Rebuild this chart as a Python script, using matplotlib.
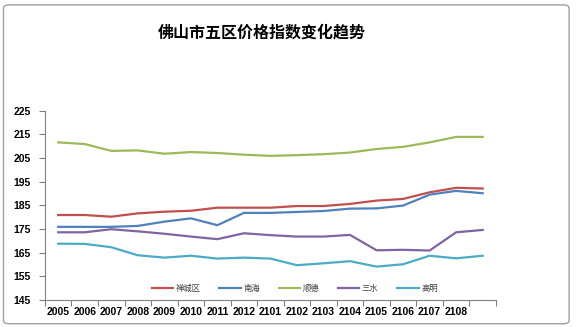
import numpy as np
import matplotlib.pyplot as plt
import matplotlib.patches as mpatches

plt.rcParams['font.family'] = ['Noto Sans CJK SC', 'DejaVu Sans']

# categories (last category has no label)
periods = ['2005', '2006', '2007', '2008', '2009', '2010', '2011', '2012',
           '2101', '2102', '2103', '2104', '2105', '2106', '2107', '2108', '']

chancheng = [180.9, 180.9, 180.2, 181.6, 182.3, 182.7, 184.0, 184.0, 184.0,
             184.7, 184.7, 185.6, 187.0, 187.7, 190.5, 192.4, 192.1]
nanhai = [175.9, 175.9, 175.9, 176.3, 178.1, 179.5, 176.6, 181.8, 181.8,
          182.2, 182.6, 183.6, 183.7, 184.9, 189.5, 191.1, 190.1]
shunde = [211.6, 210.9, 208.0, 208.2, 206.8, 207.5, 207.1, 206.4, 205.9,
          206.2, 206.6, 207.3, 208.8, 209.7, 211.6, 213.9, 213.9]
sanshui = [173.6, 173.6, 174.9, 174.0, 173.0, 171.8, 170.7, 173.2, 172.4,
           171.8, 171.8, 172.5, 166.0, 166.2, 165.9, 173.6, 174.6]
gaoming = [168.8, 168.7, 167.3, 163.9, 162.9, 163.7, 162.5, 162.9, 162.5,
           159.7, 160.5, 161.4, 159.1, 160.1, 163.7, 162.6, 163.7]

series = [('禅城区', chancheng, '#C0504D'),
          ('南海', nanhai, '#4F81BD'),
          ('顺德', shunde, '#9BBB59'),
          ('三水', sanshui, '#8064A2'),
          ('高明', gaoming, '#4BACC6')]

fig = plt.figure(figsize=(5.76, 3.27), dpi=100)
# chart frame like the spreadsheet chart border
fig.patches.append(mpatches.FancyBboxPatch((0.006, 0.01), 0.982, 0.975,
                   boxstyle='round,pad=0,rounding_size=0.01',
                   transform=fig.transFigure, fill=False,
                   edgecolor='#A0A0A0', linewidth=1.0))

ax = fig.add_axes([0.078, 0.0826, 0.783, 0.579])
x = np.arange(len(periods))
for name, vals, color in series:
    ax.plot(x, vals, color=color, linewidth=1.6, label=name)

ax.set_xlim(-0.5, len(periods) - 0.5)
ax.set_ylim(145, 225)
ax.set_yticks(np.arange(145, 226, 10))

ax.set_xticks(np.arange(-0.5, len(periods), 1.0))
ax.set_xticklabels([])
ax.set_xticks(x, minor=True)
ax.set_xticklabels(periods, minor=True)
ax.tick_params(axis='x', which='major', length=4, direction='out', color='#808080')
ax.tick_params(axis='x', which='minor', length=0, pad=5)
ax.tick_params(axis='y', length=4, direction='out', color='#808080', pad=6)
for lab in ax.get_xticklabels(minor=True) + ax.get_yticklabels():
    lab.set_fontsize(7.5)
    lab.set_fontweight('bold')
    lab.set_family(['Liberation Sans'])

for side in ['top', 'right']:
    ax.spines[side].set_visible(False)
for side in ['left', 'bottom']:
    ax.spines[side].set_color('#808080')
    ax.spines[side].set_linewidth(0.8)

leg = ax.legend(loc='center', bbox_to_anchor=(0.554, 0.063), ncol=5,
                frameon=False, fontsize=6, handlelength=2.6,
                handletextpad=0.3, columnspacing=2.2)
for t in leg.get_texts():
    t.set_color('#404040')

fig.text(0.455, 0.9, '佛山市五区价格指数变化趋势', fontsize=11.5,
         fontweight='bold', ha='center', va='center')

fig.savefig('out.png', dpi=100)
